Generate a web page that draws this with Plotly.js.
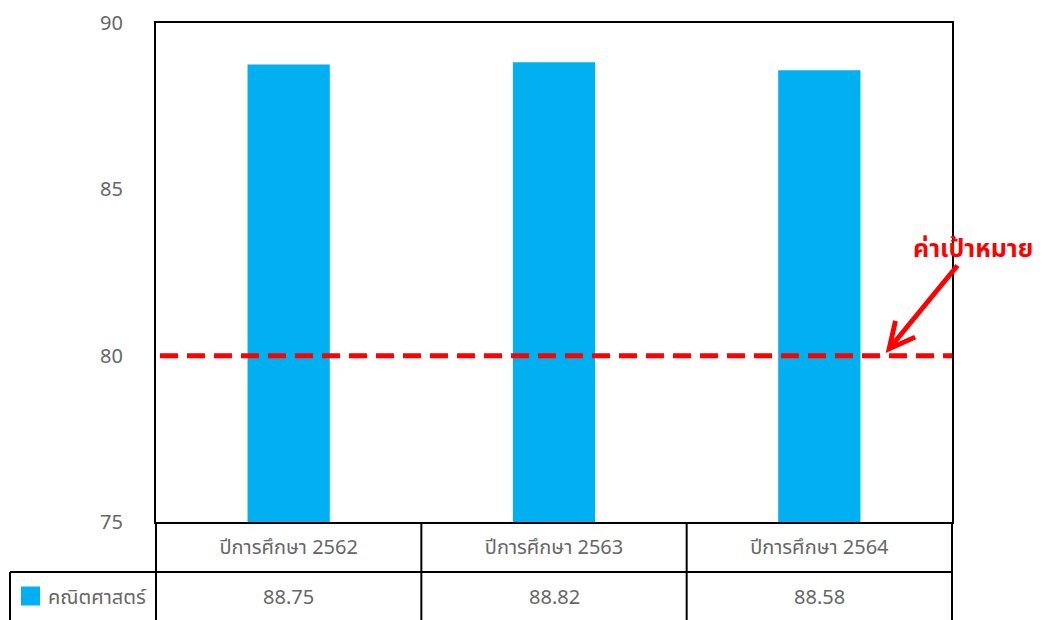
<!DOCTYPE html>
<html>
<head>
<meta charset="utf-8">
<script src="https://cdn.plot.ly/plotly-3.0.1.min.js"></script>
<style>html,body{margin:0;padding:0;background:#fff;}#chart{width:1045px;height:620px;}</style>
</head>
<body>
<div id="chart"></div>
<script>
const categories = ["ปีการศึกษา 2562", "ปีการศึกษา 2563", "ปีการศึกษา 2564"];
const seriesName = "คณิตศาสตร์";
const seriesValues = [88.75, 88.82, 88.58];
const targetValue = 80;
const targetLabel = "ค่าเป้าหมาย";
const yTicks = [75, 80, 85, 90];

const barColor = "#00B0F0";
const textGray = "#666666";
const fontFam = "'Noto Sans', 'Noto Sans Thai', 'DejaVu Sans', sans-serif";

const trace = {
  type: "bar",
  x: categories,
  y: seriesValues,
  name: seriesName,
  marker: {color: barColor},
  width: 0.31,
  showlegend: false,
  hoverinfo: "x+y"
};

const plotH = 620 - 23 - 98;
const row1Bottom = -(572 - 522) / plotH;
const row2Bottom = -(620 - 522) / plotH;
const legLeft = (10 - 156) / 796;

const shapes = [];
const border = {color: "#000", width: 2};
[0, 1/3, 2/3, 1].forEach(x => {
  shapes.push({type: "line", xref: "paper", yref: "paper", x0: x, x1: x, y0: 0, y1: row2Bottom - 0.01, line: border});
});
shapes.push({type: "line", xref: "paper", yref: "paper", x0: legLeft, x1: 1, y0: row1Bottom, y1: row1Bottom, line: border});
shapes.push({type: "line", xref: "paper", yref: "paper", x0: legLeft, x1: legLeft, y0: row1Bottom, y1: row2Bottom - 0.01, line: border});
shapes.push({type: "line", xref: "paper", yref: "y", x0: 0.005, x1: 1, y0: targetValue, y1: targetValue,
  line: {color: "#FF0000", width: 5, dash: "18px,9px"}});
const keyRow = (row1Bottom + row2Bottom) / 2;
shapes.push({type: "rect", xref: "paper", yref: "paper",
  x0: (21 - 156) / 796, x1: (40 - 156) / 796,
  y0: keyRow - 9.5 / plotH, y1: keyRow + 9.5 / plotH,
  fillcolor: barColor, line: {width: 0}});

const annotations = [];
seriesValues.forEach((v, i) => {
  annotations.push({xref: "x", yref: "paper", x: categories[i], y: keyRow, text: v.toFixed(2),
    showarrow: false, xanchor: "center", yanchor: "middle",
    font: {family: fontFam, size: 20, color: textGray}});
});
annotations.push({xref: "paper", yref: "paper", x: (46 - 156) / 796, y: keyRow, text: seriesName,
  showarrow: false, xanchor: "left", yanchor: "middle",
  font: {family: fontFam, size: 20, color: textGray}});
annotations.push({xref: "x", yref: "y", x: 2.25, y: targetValue + 0.08, text: "<b>" + targetLabel + "</b>",
  showarrow: true, ax: 87, ay: -106, arrowcolor: "#FF0000", arrowwidth: 5, arrowhead: 5, arrowsize: 1,
  font: {family: fontFam, size: 25, color: "#FF0000"}});

const layout = {
  width: 1045, height: 620,
  margin: {l: 156, r: 93, t: 23, b: 98},
  paper_bgcolor: "#fff", plot_bgcolor: "#fff",
  bargap: 0.69,
  xaxis: {
    type: "category",
    range: [-0.5, 2.5], autorange: false,
    showline: true, mirror: true, linecolor: "#000", linewidth: 2,
    showgrid: false, zeroline: false, ticks: "",
    ticklabelstandoff: 6,
    tickfont: {family: fontFam, size: 20, color: textGray}
  },
  yaxis: {
    range: [75, 90], autorange: false,
    tickvals: yTicks,
    showline: true, mirror: true, linecolor: "#000", linewidth: 2,
    showgrid: false, zeroline: false, ticks: "",
    ticklabelstandoff: 27,
    tickfont: {family: fontFam, size: 20, color: textGray}
  },
  shapes: shapes,
  annotations: annotations,
  showlegend: false
};

Plotly.newPlot("chart", [trace], layout, {displayModeBar: false});
</script>
</body>
</html>
